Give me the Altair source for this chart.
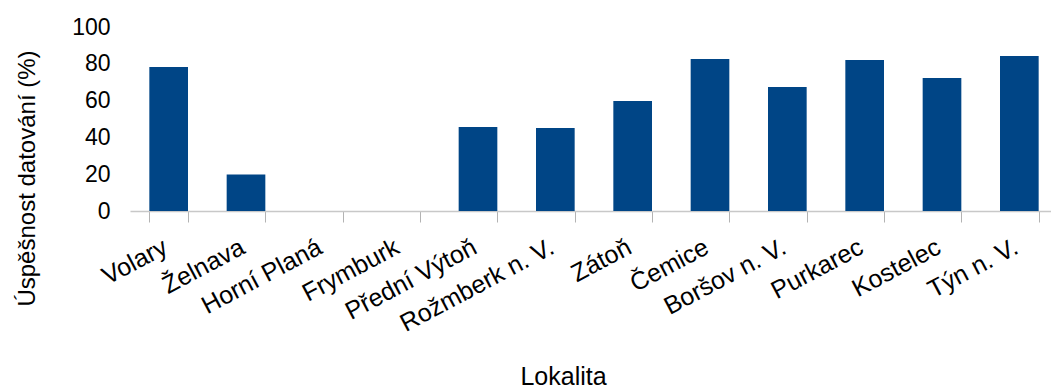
import altair as alt
import pandas as pd

categories = ["Volary", "Želnava", "Horní Planá", "Frymburk", "Přední Výtoň",
              "Rožmberk n. V.", "Zátoň", "Čemice", "Boršov n. V.", "Purkarec",
              "Kostelec", "Týn n. V."]
values = [78.3, 19.8, 0, 0, 45.6, 45.1, 59.8, 82.6, 67.4, 82.1, 72.3, 84.2]
y_ticks = [0, 20, 40, 60, 80, 100]

df = pd.DataFrame({"Lokalita": categories, "val": values})

FONT = "Liberation Sans"

chart = alt.Chart(df).mark_bar(color="#004586").encode(
    x=alt.X("Lokalita:N", sort=categories,
            scale=alt.Scale(paddingInner=0.5, paddingOuter=0.25, range=[0, 928]),
            axis=alt.Axis(title="Lokalita", labelAngle=-28, labelAlign="right",
                          labelBaseline="alphabetic", labelPadding=30, labelFontSize=25,
                          labelFont=FONT, labelColor="black", tickBand="extent",
                          tickSize=11, tickColor="#b3b3b3", domainColor="#c8c8c8",
                          domainWidth=1.5, titleFont=FONT, titleFontSize=25,
                          titleFontWeight="normal", titleColor="black",
                          titleX=433, titleY=178, titleBaseline="bottom",
                          labelOverlap=False)),
    y=alt.Y("val:Q", scale=alt.Scale(domain=[0, 100], nice=False),
            axis=alt.Axis(title="Úspěšnost datování (%)", values=y_ticks,
                          ticks=False, domain=False, grid=False, labelPadding=20,
                          labelFontSize=23, labelFont=FONT, labelColor="black",
                          titleFont=FONT, titleFontSize=24, titleFontWeight="normal",
                          titleColor="black", titleX=-103, titleY=151,
                          titleBaseline="middle", titleAngle=270))
).properties(
    width=920, height=184,
    autosize=alt.AutoSizeParams(type="none"),
    padding={"left": 130, "top": 27, "right": 1, "bottom": 178}
).configure_view(stroke=None)

chart.save("out.html", embed_options={"renderer": "svg", "actions": False})
